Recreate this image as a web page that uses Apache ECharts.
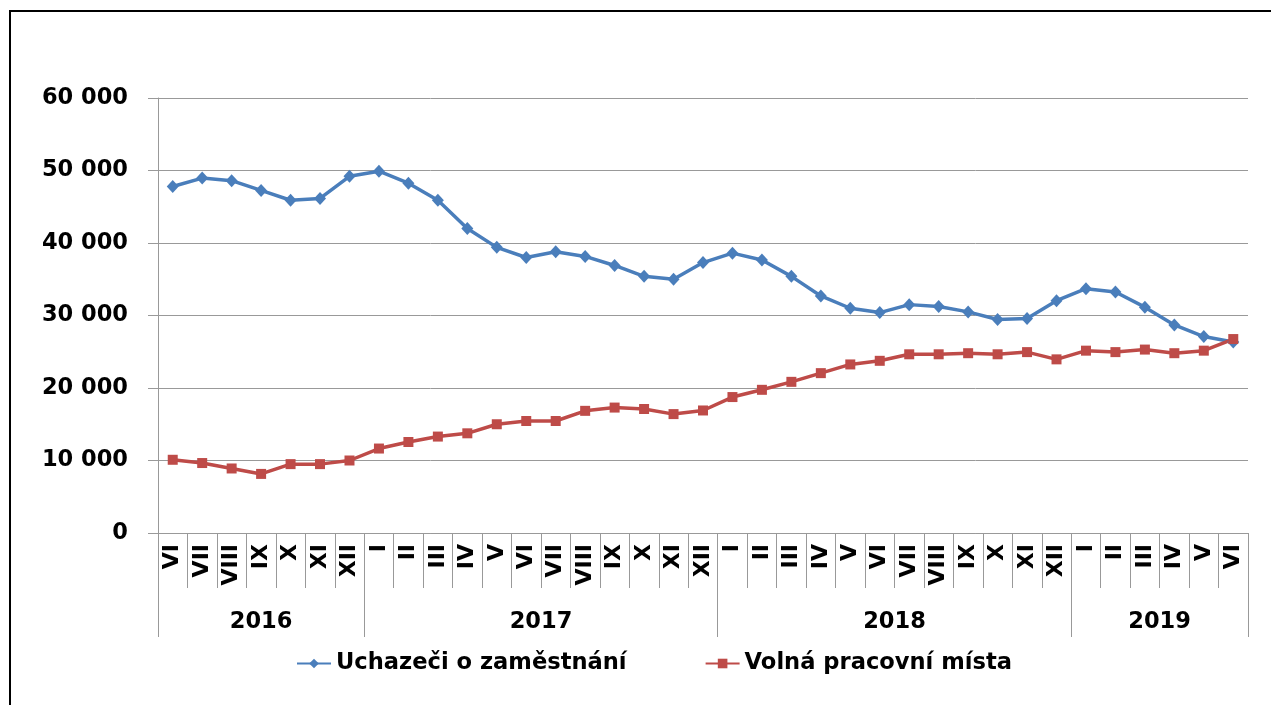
<!DOCTYPE html>
<html><head><meta charset="utf-8">
<script src="https://cdn.jsdelivr.net/npm/echarts@6/dist/echarts.min.js"></script>
<style>
html,body{margin:0;padding:0;background:#fff;overflow:hidden}
#c{width:1271px;height:705px;position:absolute;left:0;top:0}
#frame{position:absolute;left:9px;top:10px;width:1400px;height:800px;border:2px solid #000;pointer-events:none;z-index:5}
</style></head><body><div id="c"></div><div id="frame"></div>
<script>
const months = ['VI','VII','VIII','IX','X','XI','XII',
  'I','II','III','IV','V','VI','VII','VIII','IX','X','XI','XII',
  'I','II','III','IV','V','VI','VII','VIII','IX','X','XI','XII',
  'I','II','III','IV','V','VI'];
const years = ['2016','2017','2018','2019'];
const monthsPerYear = [7,12,12,6];
const seriesNames = ['Uchazeči o zaměstnání','Volná pracovní místa'];
const uchazeci = [47800,48950,48600,47250,45900,46150,49200,
  49900,48250,45900,42000,39400,38000,38800,38150,36900,35400,35000,37300,
  38600,37650,35400,32700,31000,30400,31500,31250,30500,29450,29600,32050,
  33700,33250,31150,28700,27100,26350];
const volnaMista = [10100,9650,8900,8150,9500,9500,10000,
  11650,12550,13300,13750,15000,15450,15450,16850,17300,17100,16400,16900,
  18750,19750,20850,22050,23250,23750,24650,24650,24800,24650,24950,23950,
  25150,24950,25300,24800,25150,26750];
const yMin = 0, yMax = 60000, yStep = 10000;

const bounds = [0];
monthsPerYear.forEach(n => bounds.push(bounds[bounds.length-1] + n));
const mids = monthsPerYear.map((n,i) => bounds[i] + n/2);

const font = 'DejaVu Sans';
const chart = echarts.init(document.getElementById('c'));
chart.setOption({
  animation: false,
  backgroundColor: '#fff',
  grid: {left: 158, right: 23, top: 98, bottom: 172},
  legend: {
    bottom: 25, left: 291, itemWidth: 34, itemHeight: 12, itemGap: 78,
    textStyle: {fontFamily: font, fontWeight: 'bold', fontSize: 22.6, color: '#000'},
    data: seriesNames
  },
  xAxis: [{
    type: 'category', data: months, boundaryGap: true,
    axisLine: {lineStyle: {color: '#999', width: 1}},
    axisTick: {show: true, interval: 0, length: 55, lineStyle: {color: '#999'}},
    axisLabel: {interval: 0, rotate: 90, margin: 11, fontFamily: font, fontWeight: 'bold', fontSize: 22, color: '#000'},
    splitLine: {show: false}
  }, {
    type: 'value', position: 'bottom', min: 0, max: bounds[bounds.length-1],
    axisLine: {show: false},
    axisTick: {show: true, length: 104, customValues: bounds, lineStyle: {color: '#999'}},
    axisLabel: {customValues: mids, margin: 78, fontFamily: font, fontWeight: 'bold', fontSize: 22.5, color: '#000',
      formatter: v => { const i = mids.indexOf(v); return i >= 0 ? years[i] : ''; }},
    splitLine: {show: false}
  }],
  yAxis: {
    type: 'value', min: yMin, max: yMax, interval: yStep,
    axisLine: {show: true, lineStyle: {color: '#999'}},
    axisTick: {show: true, length: 10, lineStyle: {color: '#999'}},
    axisLabel: {margin: 30, fontFamily: font, fontWeight: 'bold', fontSize: 22.5, color: '#000',
      formatter: v => String(v).replace(/\B(?=(\d{3})+(?!\d))/g, ' ')},
    splitLine: {show: true, lineStyle: {color: '#999', width: 1}}
  },
  series: [{
    name: seriesNames[0], type: 'line', data: uchazeci, xAxisIndex: 0,
    symbol: 'diamond', symbolSize: [12, 13],
    lineStyle: {color: '#4A7EBB', width: 3.5},
    itemStyle: {color: '#4A7EBB'}
  }, {
    name: seriesNames[1], type: 'line', data: volnaMista, xAxisIndex: 0,
    symbol: 'rect', symbolSize: 10,
    lineStyle: {color: '#BE4B48', width: 3.5},
    itemStyle: {color: '#BE4B48'}
  }]
});
</script></body></html>
